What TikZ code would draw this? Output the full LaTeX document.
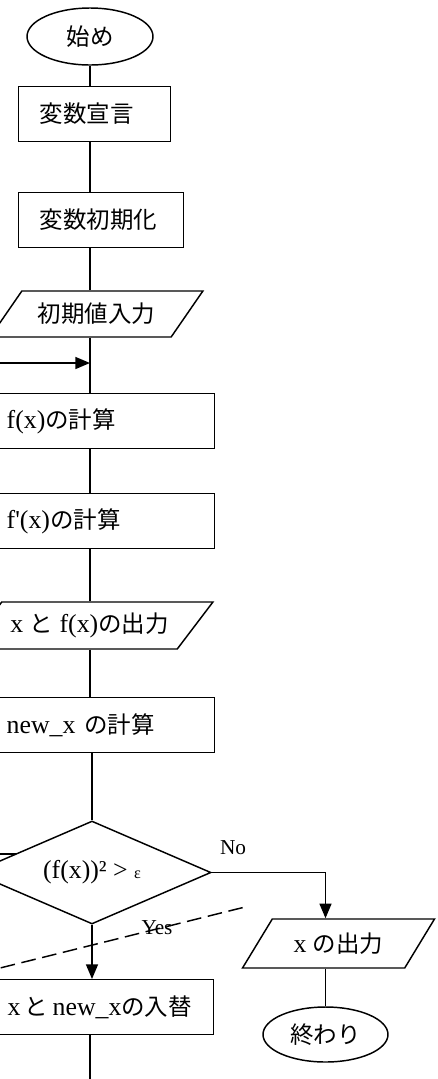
\documentclass[tikz,border=0pt]{standalone}
\usepackage{fontspec}
\setmainfont{Liberation Serif}[Scale=1.1]
\newfontfamily\jp{Noto Sans CJK JP}
\usetikzlibrary{shapes.geometric,arrows.meta}

\tikzset{every picture/.style={line width=1.1pt}}
\tikzset{
  procbox/.style={draw, rectangle, anchor=north west, minimum height=41pt,
    inner xsep=15.75pt, inner ysep=0pt, align=left, text width=#1},
  iobox/.style={draw, trapezium, trapezium stretches=true, inner sep=0pt},
  termbox/.style={draw, ellipse, inner sep=0pt},
  testbox/.style={draw, diamond, aspect=2.3, inner sep=0pt, fill=white},
  flowarrow/.style={-{Triangle[length=11pt,width=9pt]}},
  cutline/.style={dash pattern=on 11pt off 5pt},
  branchlbl/.style={inner sep=0pt, font=\fontsize{14.5pt}{17pt}\selectfont}
}

\begin{document}
\begin{tikzpicture}[x=0.75pt,y=0.75pt,yscale=-1,
  every node/.append style={font=\fontsize{17.6pt}{21pt}\selectfont}]
\useasboundingbox (0,0) rectangle (438,1079);
\clip (0,0) rectangle (438,1079);

\coordinate (spine) at (90,0);

%Flowchart: Terminator
\node[termbox, minimum width=94.5pt, minimum height=42.75pt] (start) at (90,36.5) {\jp 始め};
%Flowchart: Process
\node[procbox=82.5pt] (decl) at (18,86) {\jp 変数宣言};
\node[procbox=92.25pt] (init) at (18,192) {\jp 変数初期化};
%Flowchart: Data
\node[iobox, trapezium left angle=41, trapezium right angle=139,
  minimum width=159.75pt, minimum height=34.5pt] (input) at (96.5,314) {\jp 初期値入力};
%Flowchart: Process
\node[procbox=140.25pt] (calcf) at (-15,393) {f(x){\jp の計算}};
\node[procbox=140.25pt] (calcdf) at (-15,493) {f\textquotesingle(x){\jp の計算}};
%Flowchart: Data
\node[iobox, trapezium left angle=38, trapezium right angle=142,
  minimum width=185.25pt, minimum height=35.25pt] (outxf) at (89.5,625.5) {x {\jp と} f(x){\jp の出力}};
%Flowchart: Process
\node[procbox=140.25pt] (calcnew) at (-15,697) {new\_x {\jp の計算}};

%Straight Lines
\draw (-5,854) -- (30,854);
%Flowchart: Decision
\node[testbox, minimum width=178.5pt, minimum height=77.25pt] (test) at (92,872.5)
  {(f(x))² > {\fontsize{11pt}{12pt}\selectfont ε}};

%Flowchart: Data
\node[iobox, trapezium left angle=47, trapezium right angle=133,
  minimum width=144.75pt, minimum height=36.75pt] (outx) at (338.5,943.5) {x {\jp の出力}};
%Flowchart: Terminator
\node[termbox, minimum width=93.75pt, minimum height=41.25pt] (stop) at (325.5,1034.5) {\jp 終わり};
%Flowchart: Process
\node[procbox=138.75pt] (swap) at (-14,979) {\mbox{x\,{\jp と}\,new\_x{\jp の入替}}};

%Labels
\node[branchlbl] (nolbl) at (233,848) {No};
\node[branchlbl] (yeslbl) at (157,928) {Yes};

%Straight Lines
\draw (start.south) -- (start.south |- decl.north);
\draw (decl.south -| spine) -- (init.north -| spine);
\draw (init.south -| spine) -- (input.north -| spine);
\draw (input.south -| spine) -- (calcf.north -| spine);
\coordinate (loopin) at (-10,363);
\draw[flowarrow] (loopin) -- (loopin -| spine);
\draw (calcf.south -| spine) -- (calcdf.north -| spine);
\draw (calcdf.south -| spine) -- (outxf.north -| spine);
\draw (outxf.south -| spine) -- (calcnew.north -| spine);
\draw (calcnew.south -| test.north) -- (test.north);
\draw[flowarrow] (test.east) -| (outx.north -| stop.north);
\draw (outx.south -| stop.north) -- (stop.north);
\draw[flowarrow] (test.south) -- (test.south |- swap.north);
\coordinate (tail) at (90,1090);
\draw (swap.south -| tail) -- (tail);

%Dashed Lines
\coordinate (cutA) at (-20,973);
\coordinate (cutB) at (245,907);
\draw[cutline] (cutA) -- (cutB);

\end{tikzpicture}
\end{document}
